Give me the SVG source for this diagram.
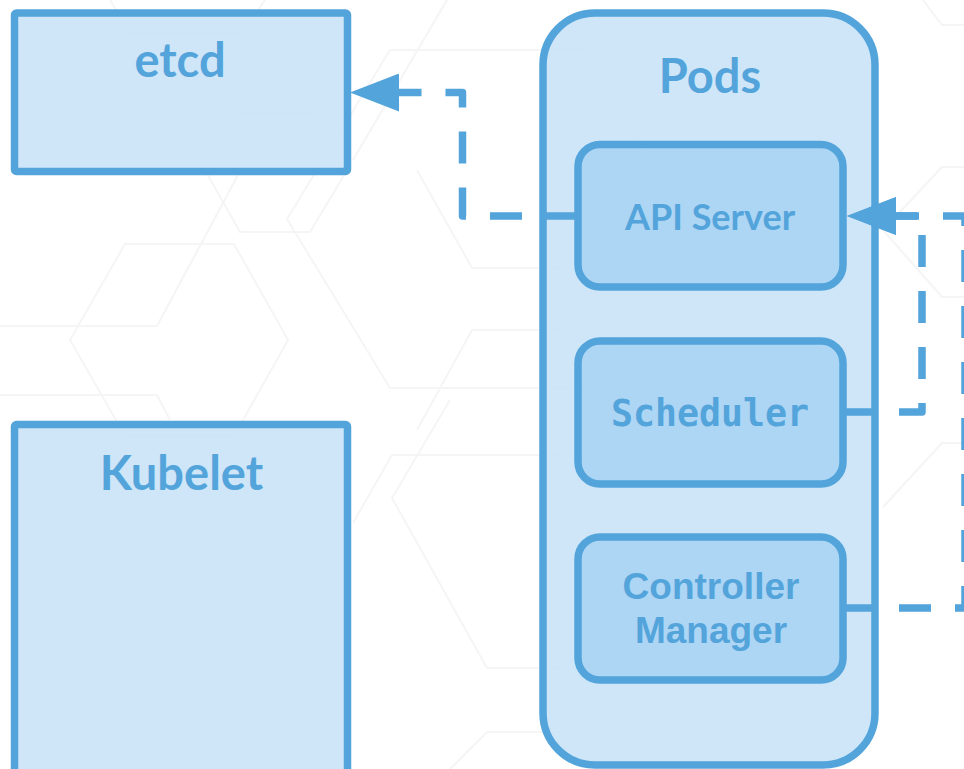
<svg xmlns="http://www.w3.org/2000/svg" width="964" height="769" viewBox="0 0 964 769">
  <defs>
    <style>
      .hex { fill: none; stroke: #f5f5f5; stroke-width: 2; stroke-linejoin: round; }
      .outer { fill: rgb(202,227,247); fill-opacity: 0.9; stroke: #53a4db; stroke-width: 7.5; }
      .inner { fill: rgb(168,211,243); fill-opacity: 0.9; stroke: #53a4db; stroke-width: 7.5; }
      .title { font-family: Lato, "Liberation Sans", sans-serif; font-weight: bold; font-size: 47px; fill: #53a4db; text-anchor: middle; }
      .lbl { font-family: Lato, "Liberation Sans", sans-serif; font-weight: bold; font-size: 36px; fill: #53a4db; text-anchor: middle; }
      .mono { font-family: "DejaVu Sans Mono", "Liberation Mono", monospace; font-weight: bold; font-size: 36.5px; fill: #53a4db; text-anchor: middle; }
      .arial { font-family: "Liberation Sans", Arial, sans-serif; font-weight: bold; font-size: 37px; fill: #53a4db; text-anchor: middle; }
      .conn { fill: none; stroke: #53a4db; stroke-width: 7.5; stroke-dasharray: 32 24; stroke-linejoin: round; }
    </style>
    <marker id="arrow" markerUnits="userSpaceOnUse" markerWidth="49" markerHeight="38" viewBox="0 0 49 38" refX="0" refY="19" orient="auto">
      <path d="M0,0 L49,19 L0,38 z" fill="#53a4db"/>
    </marker>
  </defs>
  <rect width="964" height="769" fill="#ffffff"/>

  <g id="background">
    <polyline class="hex" points="110,0 130,33 243,33 265,0"/>
    <polygon class="hex" points="242,113 312,113 346,172 310,232 240,232 206,172"/>
    <polygon class="hex" points="390,50 587,50 685,219 587,388 390,388 287,219"/>
    <polygon class="hex" points="125,244 234,244 288,340 234,436 125,436 70,340"/>
    <polyline class="hex" points="0,326 157,326 238,175"/>
    <polyline class="hex" points="0,395 157,395 170,420"/>
    <polyline class="hex" points="417,170 472,268 560,268"/>
    <polyline class="hex" points="560,330 472,330 417,430"/>
    <polyline class="hex" points="447,0 353,160"/>
    <polyline class="hex" points="450,400 392,498 487,668 560,668"/>
    <polyline class="hex" points="560,455 392,455 353,523"/>
    <polyline class="hex" points="560,732 487,732 450,769"/>
    <polyline class="hex" points="923,0 942,25 964,25"/>
    <polyline class="hex" points="964,167 942,167 883,230 942,297 964,297"/>
    <polyline class="hex" points="964,443 942,443 883,507"/>
  </g>

  <g id="etcd">
    <rect class="outer" x="14.5" y="13" width="333" height="158.5" rx="2"/>
    <text class="title" x="180" y="77">etcd</text>
  </g>

  <g id="kubelet">
    <rect class="outer" x="14.5" y="424.5" width="333" height="360" rx="2"/>
    <text class="title" x="181.5" y="490">Kubelet</text>
  </g>

  <g id="pods">
    <rect class="outer" x="543" y="13" width="332" height="752" rx="52"/>
    <text class="title" x="710" y="93">Pods</text>
  </g>

  <g id="api-server">
    <rect class="inner" x="578" y="144.5" width="265" height="142.5" rx="22"/>
    <text class="lbl" x="710" y="230">API Server</text>
  </g>

  <g id="scheduler">
    <rect class="inner" x="578" y="341" width="265" height="143" rx="22"/>
    <text class="mono" x="710" y="426">Scheduler</text>
  </g>

  <g id="controller-manager">
    <rect class="inner" x="578" y="537" width="265" height="143" rx="22"/>
    <text class="arial" x="711" y="599">Controller</text>
    <text class="arial" x="711" y="643">Manager</text>
  </g>

  <g id="connectors">
    <path class="conn" d="M578,216 H462.5 V92.5 H399" marker-end="url(#arrow)"/>
    <path class="conn" d="M843,412 H922 V216 H896" marker-end="url(#arrow)"/>
    <path class="conn" d="M843,608 H965 V216 H896" marker-end="url(#arrow)"/>
  </g>
</svg>
